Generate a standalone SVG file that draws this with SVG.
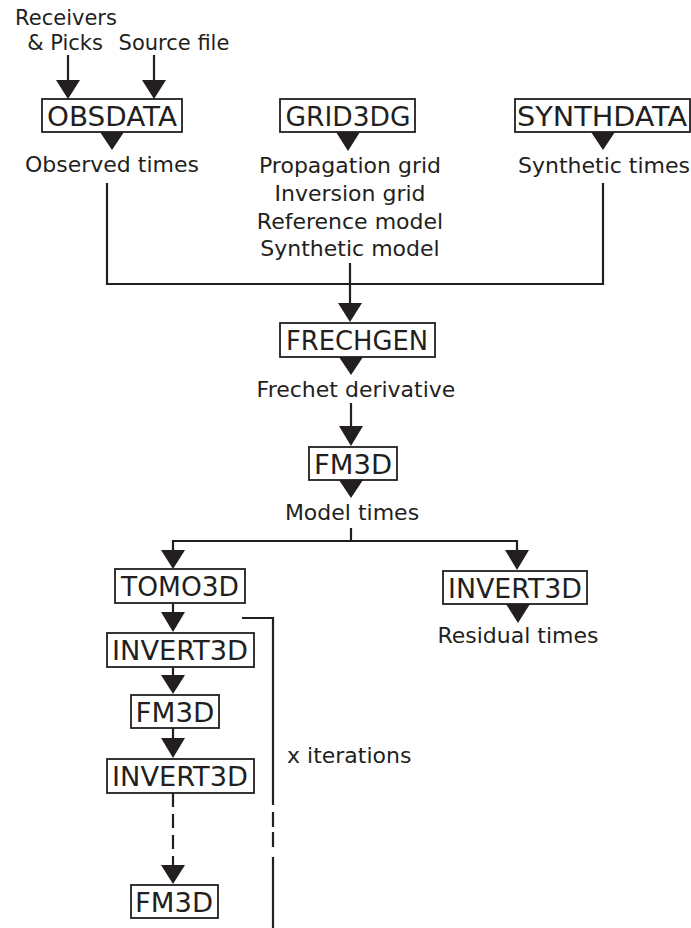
<svg xmlns="http://www.w3.org/2000/svg" width="691" height="928" viewBox="0 0 691 928">
<style>
text{font-family:"DejaVu Sans","Liberation Sans",sans-serif;fill:#231f20}
.lbl{font-size:22px;text-anchor:middle}
.box rect{fill:#fff;stroke:#231f20;stroke-width:1.8}
.box text{font-size:27px;text-anchor:middle}
.ln{stroke:#231f20;stroke-width:2.2;fill:none}
.dash{stroke-dasharray:14 7}
.tri{fill:#231f20}
</style>
<g id="inputs">
<text class="lbl" x="66" y="25" style="font-size:21px">Receivers</text>
<text class="lbl" x="65" y="50" style="font-size:21px">&amp; Picks</text>
<text class="lbl" x="174" y="50" style="font-size:21px">Source file</text>
</g>
<g id="connectors">
<path class="ln" d="M68 55V82M154 55V82"/>
<path class="tri" d="M56 80H80L68 99ZM142 80H166L154 99Z"/>
<path class="tri" d="M100 132H124L112 150ZM336 132H360L348 151ZM591 132H615L603 150Z"/>
<path class="ln" d="M107 183V284H603V183M350 263V305"/>
<path class="tri" d="M338 303H362L350 322Z"/>
<path class="tri" d="M339 357H363L351 375Z"/>
<path class="ln" d="M351 403V428"/>
<path class="tri" d="M339 426H363L351 446Z"/>
<path class="tri" d="M339 480H363L351 498Z"/>
<path class="ln" d="M351 528V541M173 552V541H517V552"/>
<path class="tri" d="M161 550H185L173 569ZM505 550H529L517 570Z"/>
<path class="tri" d="M506 604H530L518 623Z"/>
<path class="ln" d="M173 603V614"/>
<path class="tri" d="M161 612H185L173 632Z"/>
<path class="ln" d="M173 667V677"/>
<path class="tri" d="M161 675H185L173 694Z"/>
<path class="ln" d="M173 728V740"/>
<path class="tri" d="M161 738H185L173 758Z"/>
<path class="ln dash" d="M173 793V867"/>
<path class="tri" d="M161 865H185L173 884Z"/>
<path class="ln" d="M242 618H273V805M273 857V928"/>
<path class="ln" d="M273 812V827M273 832V847"/>
</g>
<g id="obsdata" class="box"><rect x="42" y="99" width="140" height="33"/><text x="112" y="126" textLength="130" lengthAdjust="spacingAndGlyphs">OBSDATA</text></g>
<text class="lbl" x="112" y="172">Observed times</text>
<g id="grid3dg" class="box"><rect x="280" y="99" width="135" height="33"/><text x="348" y="126" textLength="125" lengthAdjust="spacingAndGlyphs">GRID3DG</text></g>
<g id="grid3dg-out">
<text class="lbl" x="350" y="173">Propagation grid</text>
<text class="lbl" x="350" y="201">Inversion grid</text>
<text class="lbl" x="350" y="229">Reference model</text>
<text class="lbl" x="350" y="256">Synthetic model</text>
</g>
<g id="synthdata" class="box"><rect x="515" y="99" width="175" height="33"/><text x="602" y="126" textLength="170" lengthAdjust="spacingAndGlyphs">SYNTHDATA</text></g>
<text class="lbl" x="604" y="173">Synthetic times</text>
<g id="frechgen" class="box"><rect x="280" y="323" width="155" height="34"/><text x="357" y="350" textLength="142" lengthAdjust="spacingAndGlyphs">FRECHGEN</text></g>
<text class="lbl" x="356" y="397">Frechet derivative</text>
<g id="fm3d-1" class="box"><rect x="309" y="447" width="88" height="33"/><text x="353" y="474" textLength="78" lengthAdjust="spacingAndGlyphs">FM3D</text></g>
<text class="lbl" x="352" y="520">Model times</text>
<g id="tomo3d" class="box"><rect x="115" y="569" width="130" height="34"/><text x="180" y="596" textLength="118" lengthAdjust="spacingAndGlyphs">TOMO3D</text></g>
<g id="invert3d-r" class="box"><rect x="443" y="571" width="144" height="33"/><text x="515" y="598" textLength="134" lengthAdjust="spacingAndGlyphs">INVERT3D</text></g>
<text class="lbl" x="518" y="643">Residual times</text>
<g id="invert3d-1" class="box"><rect x="107" y="633" width="147" height="34"/><text x="180" y="660" textLength="136" lengthAdjust="spacingAndGlyphs">INVERT3D</text></g>
<g id="fm3d-2" class="box"><rect x="131" y="695" width="88" height="33"/><text x="175" y="722" textLength="79" lengthAdjust="spacingAndGlyphs">FM3D</text></g>
<g id="invert3d-2" class="box"><rect x="107" y="759" width="147" height="34"/><text x="180" y="786" textLength="136" lengthAdjust="spacingAndGlyphs">INVERT3D</text></g>
<g id="fm3d-3" class="box"><rect x="131" y="885" width="87" height="33"/><text x="174" y="912" textLength="78" lengthAdjust="spacingAndGlyphs">FM3D</text></g>
<text x="287" y="763" style="font-size:22px">x iterations</text>
</svg>
